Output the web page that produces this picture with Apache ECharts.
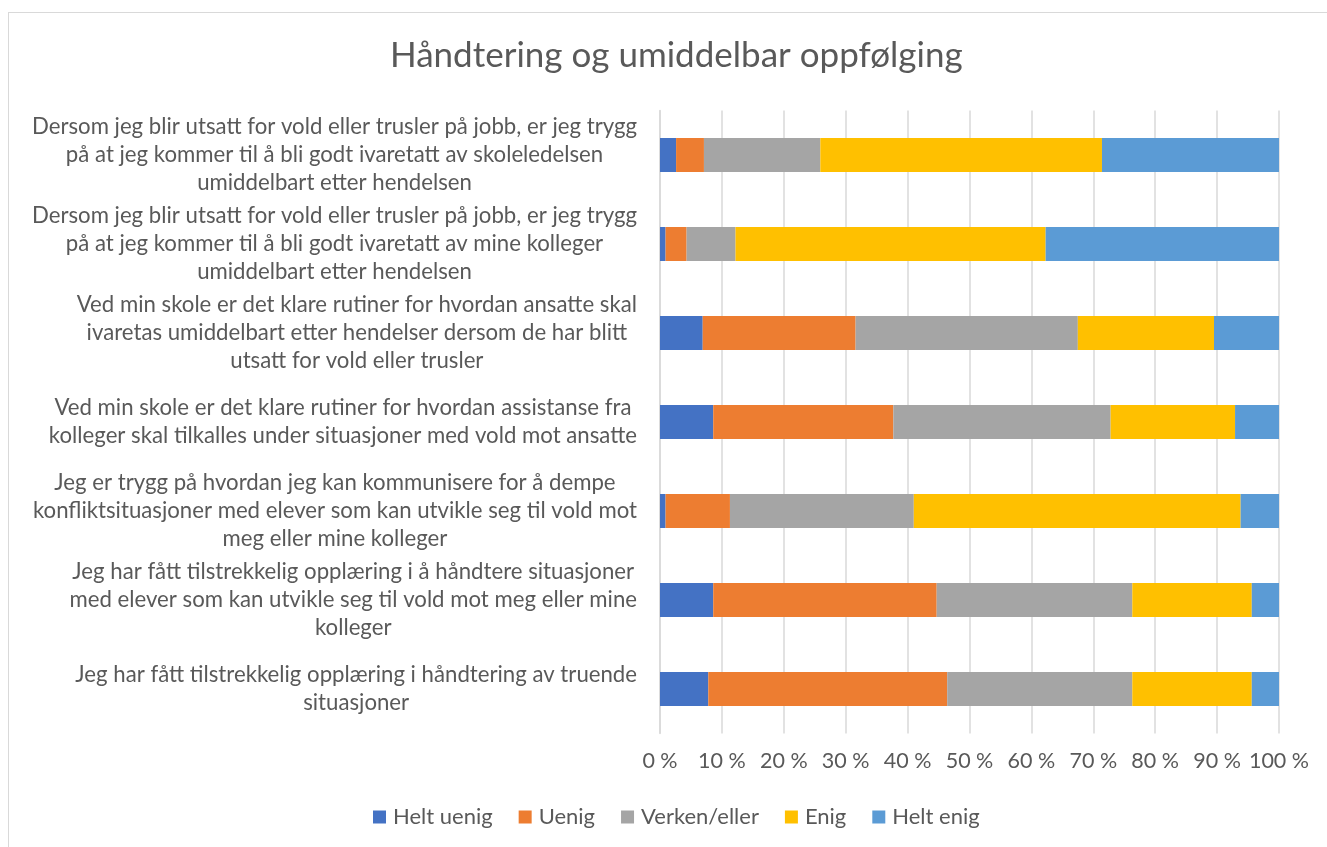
<!DOCTYPE html>
<html>
<head>
<meta charset="utf-8">
<script src="https://cdn.jsdelivr.net/npm/echarts@6/dist/echarts.min.js"></script>
<style>
html,body{margin:0;padding:0;background:#fff;}
#frame{position:absolute;left:8px;top:12px;width:1330px;height:850px;border:1px solid #d9d9d9;box-sizing:border-box;}
#chart{position:absolute;left:0;top:0;width:1327px;height:847px;}
</style>
</head>
<body>
<div id="frame"></div>
<div id="chart"></div>
<script>
const title = 'Håndtering og umiddelbar oppfølging';
const categories = [
  'Dersom jeg blir utsatt for vold eller trusler på jobb, er jeg trygg\npå at jeg kommer til å bli godt ivaretatt av skoleledelsen\numiddelbart etter hendelsen',
  'Dersom jeg blir utsatt for vold eller trusler på jobb, er jeg trygg\npå at jeg kommer til å bli godt ivaretatt av mine kolleger\numiddelbart etter hendelsen',
  'Ved min skole er det klare rutiner for hvordan ansatte skal\nivaretas umiddelbart etter hendelser dersom de har blitt\nutsatt for vold eller trusler',
  'Ved min skole er det klare rutiner for hvordan assistanse fra\nkolleger skal tilkalles under situasjoner med vold mot ansatte',
  'Jeg er trygg på hvordan jeg kan kommunisere for å dempe\nkonfliktsituasjoner med elever som kan utvikle seg til vold mot\nmeg eller mine kolleger',
  'Jeg har fått tilstrekkelig opplæring i å håndtere situasjoner\nmed elever som kan utvikle seg til vold mot meg eller mine\nkolleger',
  'Jeg har fått tilstrekkelig opplæring i håndtering av truende\nsituasjoner'
];
const seriesNames = ['Helt uenig', 'Uenig', 'Verken/eller', 'Enig', 'Helt enig'];
const heltUenig  = [2.6, 0.9, 6.9, 8.6, 0.9, 8.6, 7.8];
const uenig      = [4.5, 3.4, 24.7, 29.1, 10.4, 36.1, 38.6];
const verken     = [18.8, 7.9, 35.9, 35.1, 29.7, 31.6, 29.9];
const enig       = [45.5, 50.1, 22.0, 20.1, 52.8, 19.3, 19.3];
const heltEnig   = [28.6, 37.7, 10.5, 7.1, 6.2, 4.4, 4.4];
const colors = ['#4472C4', '#ED7D31', '#A5A5A5', '#FFC000', '#5B9BD5'];

const values = [heltUenig, uenig, verken, enig, heltEnig];
const FONT = 'Lato';
const chart = echarts.init(document.getElementById('chart'));
chart.setOption({
  animation: false,
  color: colors,
  title: {
    text: title, left: 385, top: 33,
    textStyle: {fontFamily: FONT, fontSize: 35, fontWeight: 'normal', color: '#595959'}
  },
  legend: {
    data: seriesNames, bottom: 14, left: 368,
    icon: 'rect', itemWidth: 13, itemHeight: 13, itemGap: 26,
    textStyle: {fontFamily: FONT, fontSize: 22, color: '#595959', padding: [0, 0, 0, 2]}
  },
  grid: {left: 660, right: 48, top: 110.5, bottom: 113.5, containLabel: false, outerBoundsMode: 'none'},
  xAxis: {
    type: 'value', min: 0, max: 100, interval: 10,
    axisLine: {show: false}, axisTick: {show: false},
    splitLine: {show: true, lineStyle: {color: '#d9d9d9', width: 1.5}},
    axisLabel: {formatter: '{value} %', fontFamily: FONT, fontSize: 21.5, color: '#595959', margin: 17}
  },
  yAxis: {
    type: 'category', data: categories, inverse: true,
    axisLine: {show: true, lineStyle: {color: '#d9d9d9', width: 1.5}},
    axisTick: {show: false},
    axisLabel: {
      interval: 0, margin: 23, align: 'right',
      formatter: v => '{c|' + v + '}',
      rich: {c: {align: 'center', fontFamily: FONT, fontSize: 22.2, lineHeight: 28, color: '#595959'}}
    }
  },
  series: seriesNames.map((n, i) => ({
    name: n, type: 'bar', stack: 'total', barWidth: 34,
    data: values[i],
    itemStyle: {color: colors[i]}
  }))
});
</script>
</body>
</html>
